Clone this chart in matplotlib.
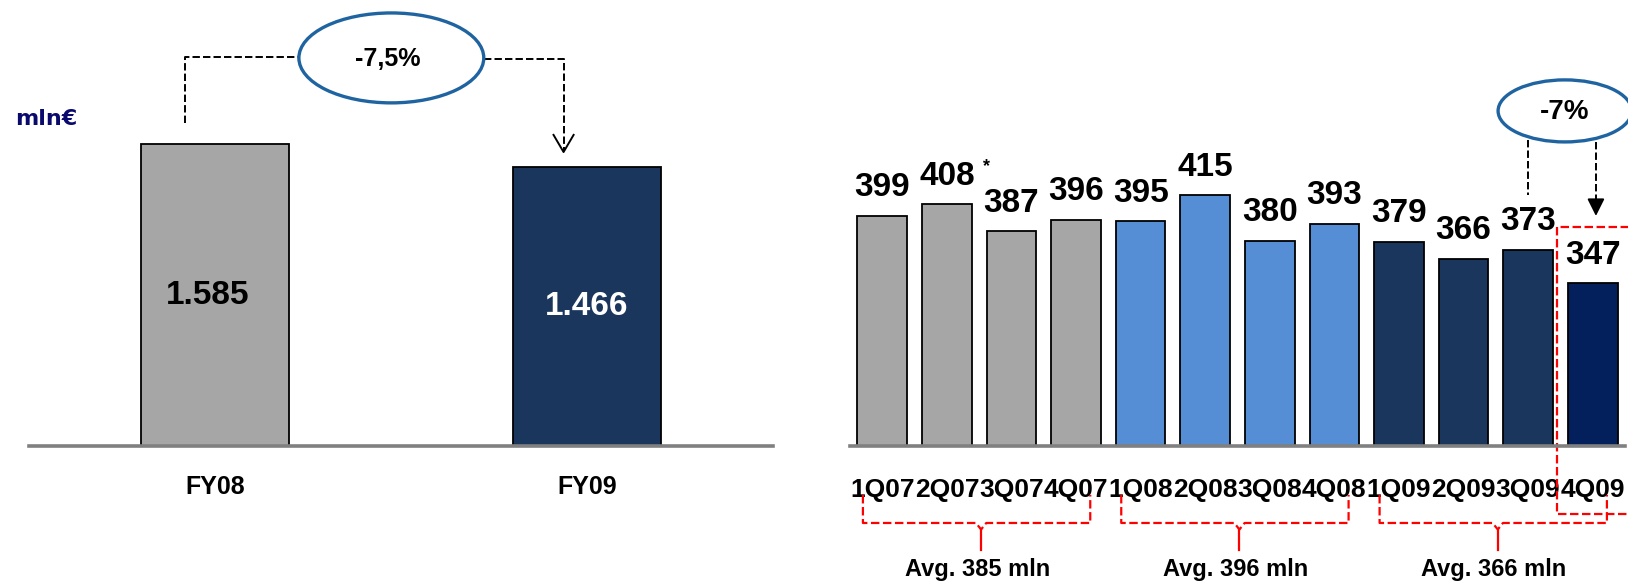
import matplotlib.pyplot as plt
from matplotlib.patches import Ellipse

plt.rcParams['font.family'] = ['Liberation Sans', 'DejaVu Sans']

# data

years = ['FY08', 'FY09']
year_values = [1585, 1466]
year_texts = ['1.585', '1.466']
year_change = '-7,5%'

quarters = ['1Q07', '2Q07', '3Q07', '4Q07', '1Q08', '2Q08', '3Q08', '4Q08',
            '1Q09', '2Q09', '3Q09', '4Q09']
quarter_values = [399, 408, 387, 396, 395, 415, 380, 393, 379, 366, 373, 347]
quarter_change = '-7%'
avg_labels = ['Avg. 385 mln', 'Avg. 396 mln', 'Avg. 366 mln']

gray = '#A6A6A6'
light_blue = '#558ED5'
dark_blue = '#1A365D'
navy = '#03205C'
ring = '#1F64A0'
quarter_colors = [gray] * 4 + [light_blue] * 4 + [dark_blue] * 3 + [navy]
dash = (0, (3.8, 1.6))

fig = plt.figure(figsize=(16.28, 5.81), dpi=100)
ax1 = fig.add_axes([29 / 1628, 135 / 581, 744 / 1628, 446 / 581])
ax2 = fig.add_axes([850 / 1628, 135 / 581, 775 / 1628, 446 / 581])

for ax in (ax1, ax2):
    for side in ('left', 'right', 'top'):
        ax.spines[side].set_visible(False)
    ax.spines['bottom'].set_color('#808080')
    ax.spines['bottom'].set_linewidth(2.6)
    ax.spines['bottom'].set_zorder(3)
    ax.set_yticks([])
    ax.tick_params(axis='x', length=0)

# yearly comparison

x1 = list(range(len(years)))
ax1.bar(x1, year_values, width=0.40, color=[gray, dark_blue], edgecolor='black', linewidth=1.3)
ax1.set_xlim(-0.5, 1.5)
ax1.set_ylim(0, 2341)
ax1.set_xticks(x1)
ax1.set_xticklabels(years, fontsize=18, fontweight='bold')
ax1.tick_params(axis='x', pad=21)

ax1.text(x1[0] - 0.02, year_values[0] / 2, year_texts[0], ha='center', va='center',
         fontsize=24, fontweight='bold', color='black')
ax1.text(x1[1], year_values[1] / 2, year_texts[1], ha='center', va='center',
         fontsize=24, fontweight='bold', color='white')

# change bubble and connectors
ax1.add_patch(Ellipse((0.474, 2037), 0.497, 472, facecolor='white', edgecolor=ring,
                      linewidth=2.4, clip_on=False, zorder=4))
ax1.text(0.464, 2030, year_change, ha='center', va='center', fontsize=18,
         fontweight='bold', zorder=5)
ax1.plot([-0.08, -0.08, 0.227], [1696, 2042, 2042], color='black', lw=1.4,
         linestyle=dash, clip_on=False)
ax1.plot([0.724, 0.937, 0.937], [2031, 2031, 1550], color='black', lw=1.4,
         linestyle=dash, clip_on=False)
ax1.plot([0.937 - 0.027, 0.937, 0.937 + 0.027], [1543 + 90, 1543, 1543 + 90],
         color='black', lw=1.4, clip_on=False)

fig.text(15 / 1628, 1 - 125 / 581, 'mln€', fontsize=16, fontweight='bold',
         color='#0A0A6E', family='DejaVu Sans', va='baseline')

# quarterly bars

x2 = list(range(len(quarters)))
ax2.bar(x2, [v - 222 for v in quarter_values], bottom=222, width=0.77,
        color=quarter_colors, edgecolor='black', linewidth=1.3)
ax2.set_xlim(-0.5, 11.5)
ax2.set_ylim(222, 565)
ax2.set_xticks(x2)
ax2.set_xticklabels(quarters, fontsize=19, fontweight='bold')
ax2.tick_params(axis='x', pad=23)

for i, v in enumerate(quarter_values):
    ax2.annotate(str(v), (x2[i], v), xytext=(0, 14), textcoords='offset points',
                 ha='center', va='baseline', fontsize=24, fontweight='bold')
ax2.text(1.61, 437, '*', ha='center', va='center', fontsize=13, fontweight='bold')

# -7% bubble
ax2.add_patch(Ellipse((10.57, 479.7), 2.07, 47.7, facecolor='white', edgecolor=ring,
                      linewidth=2.4, clip_on=False, zorder=4))
ax2.text(10.57, 478.5, quarter_change, ha='center', va='center', fontsize=20,
         fontweight='bold', zorder=5)
ax2.plot([10, 10], [457.4, 415.1], color='black', lw=1.4, linestyle=dash, clip_on=False)
ax2.plot([11.05, 11.05], [455.8, 410], color='black', lw=1.4, linestyle=dash, clip_on=False)
ax2.annotate('', xy=(11.05, 398.9), xytext=(11.05, 411),
             arrowprops=dict(arrowstyle='-|>', color='black', mutation_scale=26, lw=1.4,
                             shrinkA=0, shrinkB=0), annotation_clip=False)

# red highlight box round the last quarter
ax2.plot([12.5, 10.45, 10.45, 12.5], [390.5, 390.5, 169.7, 169.7], color='red', lw=1.6,
         linestyle=dash, clip_on=False)

# yearly brackets with averages
top, mid, tip = 184.3, 162.8, 142
for g, label in enumerate(avg_labels):
    i0 = g * 4
    i3 = i0 + 3
    left = i0 - 0.3
    right = i3 + 0.22
    centre = (i0 + i3) / 2 + 0.03
    ax2.plot([left, left, centre - 0.08, centre, centre + 0.08, right, right],
             [top, mid, mid, mid - 5, mid, mid, top],
             color='red', lw=1.6, linestyle=dash, clip_on=False)
    ax2.plot([centre, centre], [mid - 5, tip], color='red', lw=1.6, clip_on=False)
    ax2.text((i0 + i3) / 2 - 0.03, 135.5, label, ha='center', va='top', fontsize=17,
             fontweight='bold')

fig.savefig('out.png', dpi=100)
